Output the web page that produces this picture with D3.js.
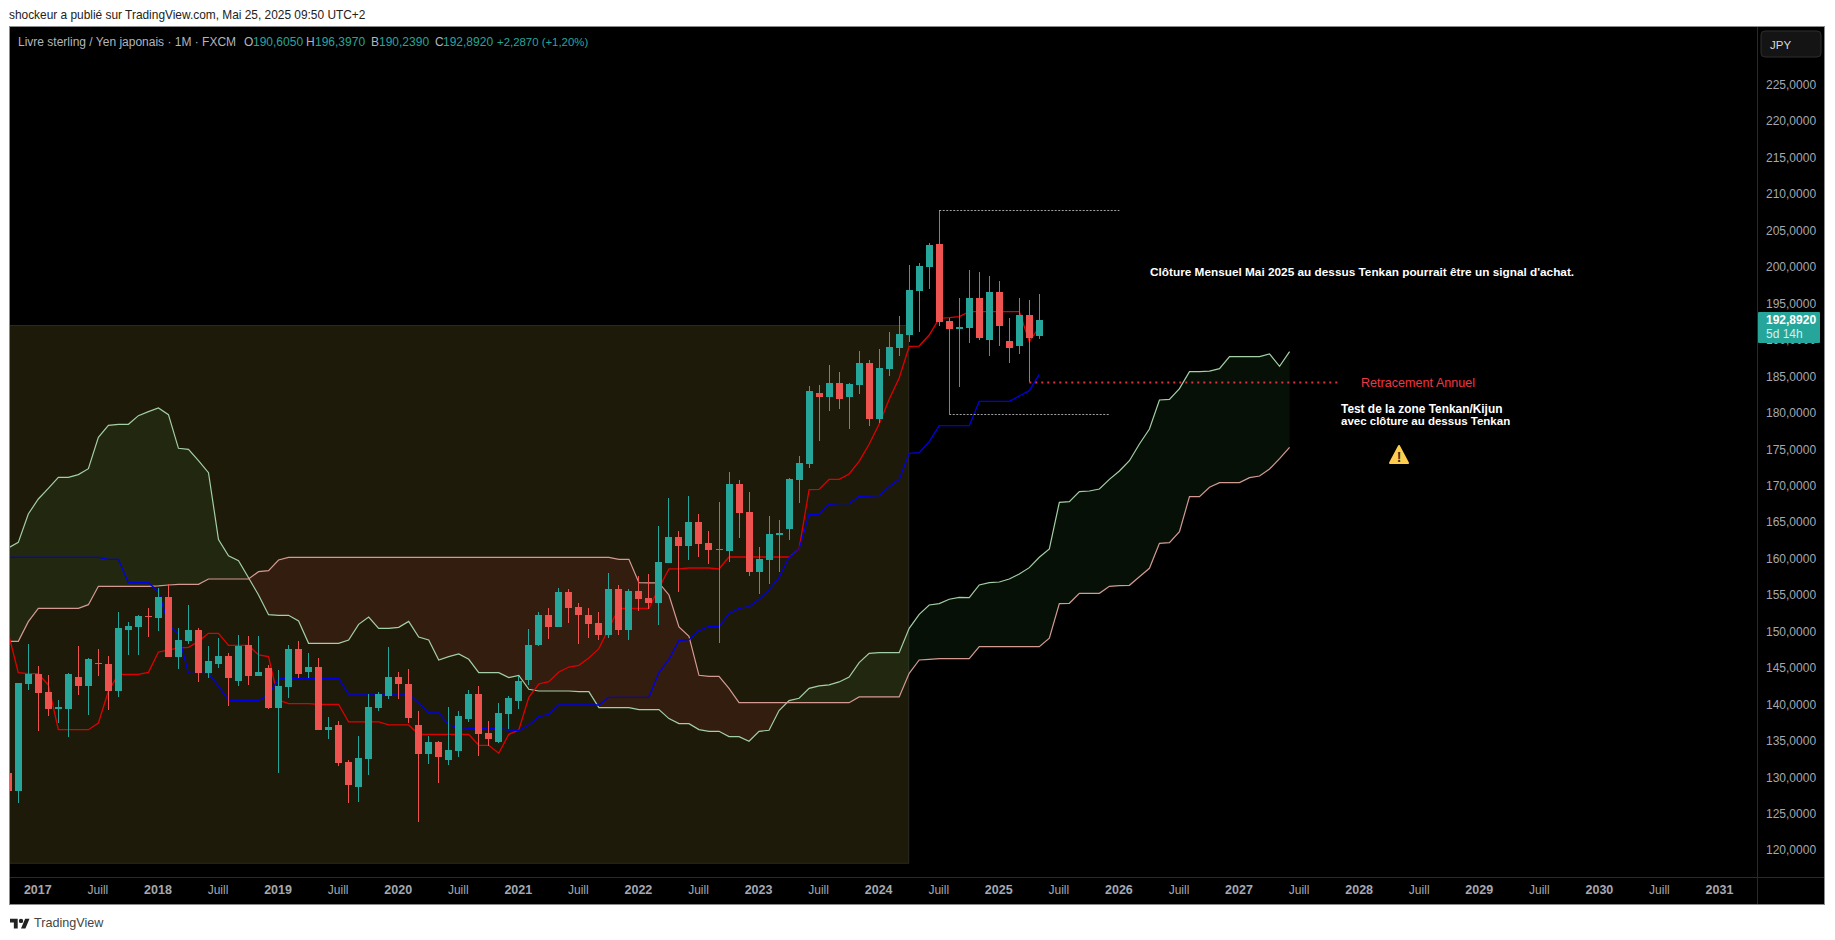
<!DOCTYPE html>
<html>
<head>
<meta charset="utf-8">
<script src="https://cdn.jsdelivr.net/npm/d3@7/dist/d3.min.js"></script>
<style>
  html, body { margin: 0; padding: 0; background: #fff; }
  svg { display: block; font-family: "Liberation Sans", Arial, sans-serif; }
</style>
</head>
<body>
<svg id="chart" width="1835" height="940"></svg>
<script>
// first value of every series = Oct 2016, monthly
var opens = [130.68,
  128.30,142.93,144.30,141.83,139.50,139.50,143.89,142.65,145.81,145.67,
  141.97,150.34,150.75,152.26,151.98,154.86,146.63,148.83,150.34,144.44,
  145.67,146.77,143.34,148.28,144.03,145.12,139.64,142.52,147.73,144.57,
  145.26,136.62,137.31,132.23,128.80,132.64,139.64,141.28,143.89,142.93,
  137.31,133.33,134.97,132.50,133.74,138.13,141.56,136.21,134.98,138.82,
  140.60,143.48,148.28,152.40,150.75,155.55,153.49,152.40,151.30,149.65,
  155.96,150.34,155.69,154.73,154.04,159.53,163.09,161.86,165.15,162.27,
  161.31,161.17,170.37,166.52,158.29,159.94,163.37,164.19,170.92,173.11,
  182.85,182.30,184.22,182.30,183.95,186.97,179.28,186.14,189.02,190.80,
  196.84,200.13,203.28,192.72,191.62,191.76,195.88,190.12,196.70,189.98,
  189.29,193.54,190.605];
var highs = [131.0,
  143.11,148.41,145.40,144.16,140.73,144.39,148.14,146.45,147.73,146.77,
  152.80,151.43,152.39,153.35,156.10,156.65,150.61,153.76,150.61,148.14,
  149.24,147.18,149.65,149.51,149.51,145.53,144.85,148.28,148.83,147.18,
  146.49,138.40,137.85,132.50,135.80,141.56,141.83,148.00,144.57,144.99,
  139.23,135.80,135.11,139.77,139.23,142.11,142.66,137.86,140.33,141.29,
  144.03,150.48,152.81,153.36,156.10,155.96,154.04,153.36,152.81,158.16,
  156.51,155.96,157.75,158.02,164.60,168.45,163.92,168.72,166.25,163.92,
  167.90,172.01,170.92,169.27,161.72,165.98,165.43,171.20,174.21,183.81,
  183.95,186.69,185.73,184.22,188.61,187.38,188.89,191.21,193.41,200.40,
  200.68,203.42,207.95,193.13,195.88,199.72,199.44,198.89,198.21,193.13,
  195.88,195.60,196.397];
var lows = [127.0,
  126.56,142.11,136.53,138.59,137.63,135.71,141.42,138.72,144.07,139.36,
  141.19,146.91,146.91,149.38,150.24,146.63,144.99,148.41,143.20,143.75,
  145.12,139.91,142.65,142.79,144.03,139.50,130.72,141.01,143.75,143.75,
  136.62,135.39,131.68,126.61,126.74,130.45,139.23,140.87,140.87,137.58,
  124.00,131.96,129.35,131.82,132.92,137.72,133.06,134.43,134.84,136.76,
  139.50,142.80,148.14,149.11,150.75,151.30,148.42,149.24,148.97,149.24,
  149.65,148.97,152.95,153.22,151.02,159.50,155.55,159.94,160.35,159.39,
  148.56,159.67,162.96,157.75,155.28,156.65,158.29,162.68,167.76,172.56,
  176.27,180.38,180.66,177.91,182.71,178.32,178.74,185.18,187.92,189.84,
  191.21,197.11,192.04,179.97,183.67,189.70,190.12,187.92,189.29,186.96,
  188.20,184.36,190.239];
var closes = [128.30,
  143.02,144.30,141.74,139.50,139.73,144.30,142.65,146.36,145.67,141.97,
  150.61,150.88,152.26,152.12,154.86,146.63,148.96,150.34,144.44,146.08,
  146.77,143.75,148.14,144.03,144.57,139.64,142.65,147.73,144.30,145.26,
  136.62,137.03,132.09,129.08,132.78,139.77,141.56,143.89,142.93,138.27,
  133.33,134.97,132.92,133.88,138.54,141.56,136.07,135.39,138.95,141.01,
  143.34,148.28,152.40,150.75,155.55,153.36,152.40,151.16,149.65,155.96,
  150.34,155.69,154.59,154.04,159.67,163.09,161.86,165.15,162.14,161.31,
  161.45,170.37,166.39,158.29,160.08,163.51,163.64,171.05,173.25,183.12,
  182.30,184.22,182.03,184.08,186.97,179.28,186.28,189.16,190.94,196.97,
  200.27,203.15,192.58,191.62,191.90,195.88,190.39,196.70,192.04,189.02,
  193.54,190.39,192.892];

var tenkan = [149.9,
  144.48,144.34,144.34,142.79,136.66,136.66,136.66,136.66,137.58,141.97,
  144.25,144.25,144.25,144.53,147.32,147.59,147.87,147.96,148.78,149.88,
  149.88,148.23,148.23,148.23,146.91,146.68,140.73,140.23,140.23,140.23,
  140.14,140.14,140.14,137.72,137.72,137.72,137.72,137.31,137.31,137.31,
  136.03,136.03,136.03,136.03,136.03,136.03,134.52,134.52,133.42,136.03,
  136.62,141.10,142.93,143.25,144.58,145.26,145.49,146.50,147.78,150.57,
  153.31,153.31,153.31,153.31,156.10,158.71,158.71,158.84,158.84,158.84,
  158.71,160.35,160.35,160.35,160.35,160.35,160.35,160.35,161.45,169.59,
  169.63,171.01,171.01,171.74,173.48,175.81,178.60,181.98,184.91,189.25,
  189.29,190.80,193.09,193.18,193.32,194.00,194.00,194.00,194.00,194.00,
  194.00,189.89,191.90];
var kijun = [160.30,
  160.30,160.30,160.30,160.30,160.30,160.30,160.30,160.30,160.30,160.03,
  160.03,156.83,156.83,156.83,155.59,151.16,149.79,144.39,144.39,144.39,
  142.65,140.69,140.69,140.69,140.69,141.42,143.71,143.71,143.71,143.71,
  143.71,143.71,143.71,141.56,141.56,141.56,141.56,141.56,141.56,141.56,
  140.28,138.96,138.96,137.31,136.98,136.85,136.85,136.85,136.80,136.62,
  136.53,137.31,138.45,138.77,140.05,140.05,140.05,140.05,140.05,141.10,
  141.10,141.10,141.10,141.10,144.49,146.32,148.88,149.01,150.25,150.84,
  150.84,152.58,153.31,153.54,154.55,155.87,157.56,160.31,161.45,166.20,
  166.20,167.58,167.67,167.67,168.68,168.72,168.77,170.00,171.00,174.57,
  174.66,176.17,178.37,178.37,178.37,178.37,181.70,181.70,181.70,181.70,
  182.44,183.17,185.41];
var spanA = [161.6,
  162.36,166.25,168.31,169.77,171.28,171.28,171.65,172.47,176.77,178.41,
  178.55,178.55,179.74,180.29,180.79,179.88,175.26,175.12,173.57,171.92,
  162.75,160.50,159.85,157.51,155.14,152.44,152.35,152.35,151.57,148.51,
  148.51,148.51,148.51,148.96,151.11,152.12,150.56,150.56,150.70,151.52,
  149.38,148.96,146.22,146.68,147.05,146.32,144.49,144.49,144.49,143.80,
  144.12,142.20,141.97,141.97,141.97,141.97,141.88,141.88,139.69,139.69,
  139.69,139.69,139.41,139.41,139.41,138.18,137.49,137.49,136.67,136.44,
  136.44,135.71,135.71,135.07,136.44,136.58,139.28,140.65,140.97,142.34,
  142.66,142.80,143.21,143.89,145.86,147.14,147.23,147.23,147.23,150.57,
  152.49,153.77,153.95,154.55,154.82,154.77,156.51,156.83,156.92,157.33,
  158.02,158.89,160.31,161.45,167.85,167.94,169.31,169.40,169.68,171.00,
  172.15,173.56,175.85,177.91,181.89,181.98,183.44,185.77,185.77,185.86,
  186.18,187.83,187.83,187.83,187.83,188.20,186.50,188.52];
var spanB = [148.78,
  148.78,151.48,153.31,153.31,153.31,153.31,153.31,153.81,156.33,156.33,
  156.33,156.33,156.33,156.33,156.38,156.51,156.60,156.60,156.60,157.33,
  157.33,157.33,157.33,157.33,158.34,158.47,159.94,160.30,160.30,160.30,
  160.30,160.30,160.30,160.30,160.30,160.30,160.30,160.30,160.30,160.30,
  160.30,160.30,160.30,160.30,160.30,160.30,160.30,160.30,160.30,160.30,
  160.30,160.30,160.30,160.30,160.30,160.30,160.30,160.30,160.30,160.30,
  160.03,160.03,156.83,156.79,156.79,155.14,150.75,149.47,144.12,143.98,
  143.98,142.34,140.37,140.37,140.37,140.37,140.37,140.37,140.37,140.37,
  140.37,140.37,140.37,140.37,141.15,141.15,141.15,141.15,141.15,144.40,
  146.22,146.32,146.41,146.41,146.41,146.41,148.05,148.05,148.05,148.05,
  148.05,148.05,148.05,149.20,153.95,154.00,155.37,155.37,155.37,156.33,
  156.42,156.47,157.65,158.80,162.23,162.32,163.83,168.63,168.63,169.91,
  170.55,170.55,170.55,171.23,171.46,172.42,173.84,175.39];

var priceTicks = d3.range(120, 226, 5);
var timeLabels = ["2017","Juill","2018","Juill","2019","Juill","2020","Juill","2021","Juill","2022","Juill","2023","Juill","2024","Juill","2025","Juill","2026","Juill","2027","Juill","2028","Juill","2029","Juill","2030","Juill","2031"];
var firstLabelMonth = 3, labelStep = 6;

// [month index from, month index to, price]
var highLevel = [93, 111, 207.93];
var lowLevel = [94, 110, 179.93];
var retraceLevel = [102, 133, 184.4];
var zone = {x0: -2, x1: 90, top: 192.17, bottom: 118.4};

var legendParts = [
  {t: "Livre sterling / Yen japonais \u00b7 1M \u00b7 FXCM", x: 18, c: "#b2b5be", s: 12},
  {t: "O", x: 244, c: "#b2b5be", s: 12}, {t: "190,6050", x: 253, c: "#26a69a", s: 12},
  {t: "H", x: 306, c: "#b2b5be", s: 12}, {t: "196,3970", x: 315, c: "#26a69a", s: 12},
  {t: "B", x: 371, c: "#b2b5be", s: 12}, {t: "190,2390", x: 379, c: "#26a69a", s: 12},
  {t: "C", x: 435, c: "#b2b5be", s: 12}, {t: "192,8920", x: 443, c: "#26a69a", s: 12},
  {t: "+2,2870 (+1,20%)", x: 497, c: "#26a69a", s: 11.4}
];

var upColor = "#26a69a", downColor = "#ef5350";
var paneLeft = 10, paneRight = 1757, paneTop = 27, paneBottom = 877, outerRight = 1824, outerBottom = 904;

var svg = d3.select("#chart");

var x = d3.scaleLinear().domain([0, 103]).range([8.29, 1039.32]);
var y = d3.scaleLinear().domain([225, 120]).range([85.7, 851.15]);

svg.append("rect").attr("width", 1835).attr("height", 940).attr("fill", "#fff");
svg.append("rect").attr("x", paneLeft - 0.5).attr("y", paneTop - 0.5)
   .attr("width", outerRight - paneLeft + 1).attr("height", outerBottom - paneTop + 1)
   .attr("fill", "#000").attr("stroke", "#8c8c8c");

svg.append("defs").append("clipPath").attr("id", "pane").append("rect")
   .attr("x", paneLeft).attr("y", paneTop)
   .attr("width", paneRight - paneLeft).attr("height", paneBottom - paneTop);

var plot = svg.append("g").attr("clip-path", "url(#pane)");

// background rectangle drawn on the chart
plot.append("rect")
    .attr("x", x(zone.x0)).attr("y", Math.round(y(zone.top)) + 0.5)
    .attr("width", x(zone.x1) - x(zone.x0) - 0.5)
    .attr("height", y(zone.bottom) - y(zone.top))
    .attr("fill", "#1e1a0a").attr("stroke", "#2a2a22");

// cloud, with crossing points added so each colour stops at the crossing
var cloud = [];
spanA.forEach(function(a, k) {
  var b = spanB[k];
  cloud.push({k: k, a: a, b: b});
  if (k < spanA.length - 1) {
    var d0 = a - b, d1 = spanA[k + 1] - spanB[k + 1];
    if (d0 * d1 < 0) {
      var t = d0 / (d0 - d1);
      var v = a + t * (spanA[k + 1] - a);
      cloud.push({k: k + t, a: v, b: v});
    }
  }
});
var areaUp = d3.area().x(function(d) { return x(d.k); })
    .y0(function(d) { return y(d.a); })
    .y1(function(d) { return y(Math.min(d.a, d.b)); });
var areaDown = d3.area().x(function(d) { return x(d.k); })
    .y0(function(d) { return y(d.b); })
    .y1(function(d) { return y(Math.min(d.a, d.b)); });
plot.append("path").attr("d", areaUp(cloud)).attr("fill", "rgba(76,175,80,0.09)");
plot.append("path").attr("d", areaDown(cloud)).attr("fill", "rgba(242,54,69,0.1)");

var line = d3.line().x(function(d, k) { return x(k); }).y(function(d) { return y(d); });
function drawLine(values, color, w) {
  plot.append("path").attr("d", line(values))
      .attr("fill", "none").attr("stroke", color).attr("stroke-width", w);
}
drawLine(spanA, "#a3cfa5", 1.2);
drawLine(spanB, "#d49a92", 1.2);
drawLine(tenkan, "#e00000", 1.3);
drawLine(kijun, "#0000e6", 1.3);

// candles
var candles = plot.append("g").selectAll("g").data(opens).enter().append("g")
    .attr("shape-rendering", "crispEdges")
    .attr("fill", function(d, k) { return closes[k] >= opens[k] ? upColor : downColor; });
candles.append("rect")
    .attr("x", function(d, k) { return Math.floor(x(k)); })
    .attr("width", 1)
    .attr("y", function(d, k) { return y(highs[k]); })
    .attr("height", function(d, k) { return y(lows[k]) - y(highs[k]); });
candles.append("rect")
    .attr("x", function(d, k) { return Math.floor(x(k)) - 3; })
    .attr("width", 7)
    .attr("y", function(d, k) { return y(Math.max(opens[k], closes[k])); })
    .attr("height", function(d, k) { return Math.max(1, Math.abs(y(opens[k]) - y(closes[k]))); });

// levels
function level(lv, color, dash, w) {
  plot.append("line")
      .attr("x1", x(lv[0])).attr("x2", x(lv[1]))
      .attr("y1", Math.round(y(lv[2])) + 0.5).attr("y2", Math.round(y(lv[2])) + 0.5)
      .attr("stroke", color).attr("stroke-width", w).attr("stroke-dasharray", dash);
}
level(highLevel, "#a0a0a0", "2 1.5", 1);
level(lowLevel, "#a0a0a0", "2 1.5", 1);
level(retraceLevel, "#e0303f", "2 4", 2);

function note(txt, px, py, color, size, weight) {
  svg.append("text").attr("x", px).attr("y", py).attr("dy", "0.35em")
     .attr("fill", color).attr("font-size", size).attr("font-weight", weight).text(txt);
}
note("Cl\u00f4ture Mensuel Mai 2025 au dessus Tenkan pourrait \u00eatre un signal d'achat.", 1150, 272, "#fff", 11.8, "bold");
note("Retracement Annuel", 1361, 383, "#f23645", 12.6, "normal");
note("Test de la zone Tenkan/Kijun", 1341, 409, "#fff", 11.9, "bold");
note("avec cl\u00f4ture au dessus Tenkan", 1341, 421, "#fff", 11.5, "bold");

// warning sign
var warn = svg.append("g").attr("transform", "translate(1399,455)");
warn.append("path").attr("d", "M0,-9 L9,8 L-9,8 Z")
    .attr("fill", "#ffcc4d").attr("stroke", "#ffcc4d").attr("stroke-width", 2).attr("stroke-linejoin", "round");
warn.append("text").attr("text-anchor", "middle").attr("y", 7).attr("font-size", 14)
    .attr("font-weight", "bold").attr("fill", "#3a3020").text("!");

// separators of the axis strips
svg.append("line").attr("x1", paneRight + 0.5).attr("x2", paneRight + 0.5).attr("y1", paneTop).attr("y2", outerBottom).attr("stroke", "#2a2a2a");
svg.append("line").attr("x1", paneLeft).attr("x2", outerRight).attr("y1", paneBottom + 0.5).attr("y2", paneBottom + 0.5).attr("stroke", "#2a2a2a");

// axes
var priceFmt = d3.format(".4f");
var yAxis = d3.axisRight(y).tickValues(priceTicks).tickSize(0).tickPadding(0)
    .tickFormat(function(d) { return priceFmt(d).replace(".", ","); });
var yg = svg.append("g").attr("transform", "translate(1766,-1)").call(yAxis);
yg.select(".domain").remove();
yg.selectAll("text").attr("fill", "#a6a8b0").attr("font-size", 12)
  .attr("font-family", "Liberation Sans, Arial, sans-serif");

var xAxis = d3.axisBottom(x)
    .tickValues(timeLabels.map(function(d, i) { return firstLabelMonth + i * labelStep; }))
    .tickSize(0).tickPadding(0)
    .tickFormat(function(d) { return timeLabels[(d - firstLabelMonth) / labelStep]; });
var xg = svg.append("g").attr("transform", "translate(-1,885)").call(xAxis);
xg.select(".domain").remove();
xg.selectAll("text").attr("fill", "#a6a8b0")
  .attr("font-family", "Liberation Sans, Arial, sans-serif")
  .attr("font-size", function(d) { return timeLabels[(d - firstLabelMonth) / labelStep] === "Juill" ? 12 : 12.5; })
  .attr("font-weight", function(d) { return timeLabels[(d - firstLabelMonth) / labelStep] === "Juill" ? "normal" : "bold"; });

// last price tag
svg.append("rect").attr("x", 1758).attr("y", 312).attr("width", 62).attr("height", 31).attr("rx", 1).attr("fill", upColor);
note("192,8920", 1766, 319.5, "#fff", 12, "bold");
note("5d 14h", 1766, 334, "#d4eeeb", 12, "normal");

// currency button
svg.append("rect").attr("x", 1761).attr("y", 31).attr("width", 60).attr("height", 26).attr("rx", 4)
   .attr("fill", "#141414").attr("stroke", "#2e2e2e");
note("JPY", 1770, 45, "#d8d8d8", 11.5, "normal");

// header, legend, footer
note("shockeur a publi\u00e9 sur TradingView.com, Mai 25, 2025 09:50 UTC+2", 9, 15, "#222", 11.9, "normal");
legendParts.forEach(function(p) { note(p.t, p.x, 42, p.c, p.s, "normal"); });

var logo = svg.append("g").attr("transform", "translate(10,916.5) scale(0.55)").attr("fill", "#222");
logo.append("path").attr("d", "M14 22H7V11H0V4h14v18zM28 22h-8l7.5-18h8L28 22z");
logo.append("circle").attr("cx", 20).attr("cy", 8).attr("r", 4);
note("TradingView", 34, 923, "#444", 12.6, "normal");
</script>
</body>
</html>
